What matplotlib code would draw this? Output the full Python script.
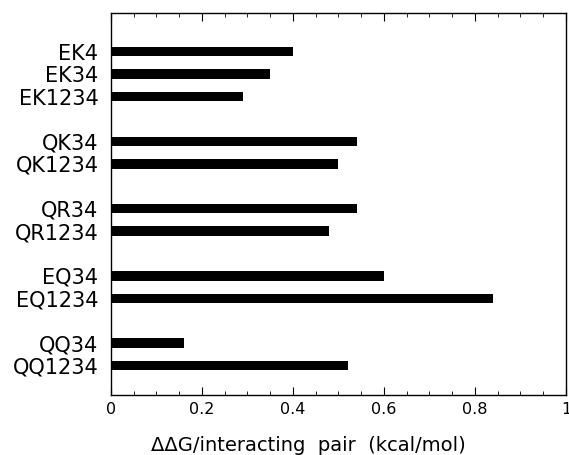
import numpy as np
import matplotlib
matplotlib.use("Agg")
import matplotlib.pyplot as plt
from matplotlib.ticker import MultipleLocator

plt.rcParams['font.family'] = ['DejaVu Sans']

labels = ["EK4", "EK34", "EK1234",
          "QK34", "QK1234",
          "QR34", "QR1234",
          "EQ34", "EQ1234",
          "QQ34", "QQ1234"]
ddg = [0.40, 0.35, 0.29,
       0.54, 0.50,
       0.54, 0.48,
       0.60, 0.84,
       0.16, 0.52]
# row index for each bar, with a blank row between groups
rows = [0, 1, 2, 4, 5, 7, 8, 10, 11, 13, 14]

fig = plt.figure(figsize=(5.69, 4.55), dpi=100)
ax = fig.add_axes([0.195, 0.132, 0.7997, 0.8394])

ax.barh(rows, ddg, height=0.42, color="black", left=0)

ax.set_xlim(0, 1)
ax.set_ylim(15.31, -1.73)
ax.set_yticks(rows)
ax.set_yticklabels(labels, fontsize=15)
ax.tick_params(axis='y', length=0, pad=9)

ax.xaxis.set_minor_locator(MultipleLocator(0.05))
ax.set_xticks([0, 0.2, 0.4, 0.6, 0.8, 1])
ax.set_xticklabels(["0", "0.2", "0.4", "0.6", "0.8", "1"], fontsize=11.5)
ax.tick_params(axis='x', which='both', direction='in', top=True, bottom=True)
ax.tick_params(axis='x', which='major', length=6, pad=5)
ax.tick_params(axis='x', which='minor', length=3)

for s in ax.spines.values():
    s.set_linewidth(1.0)

ax.set_xlabel("ΔΔG/interacting  pair  (kcal/mol)", fontsize=14)
ax.xaxis.set_label_coords(0.433, -0.108)

fig.savefig("out.png", dpi=100)
